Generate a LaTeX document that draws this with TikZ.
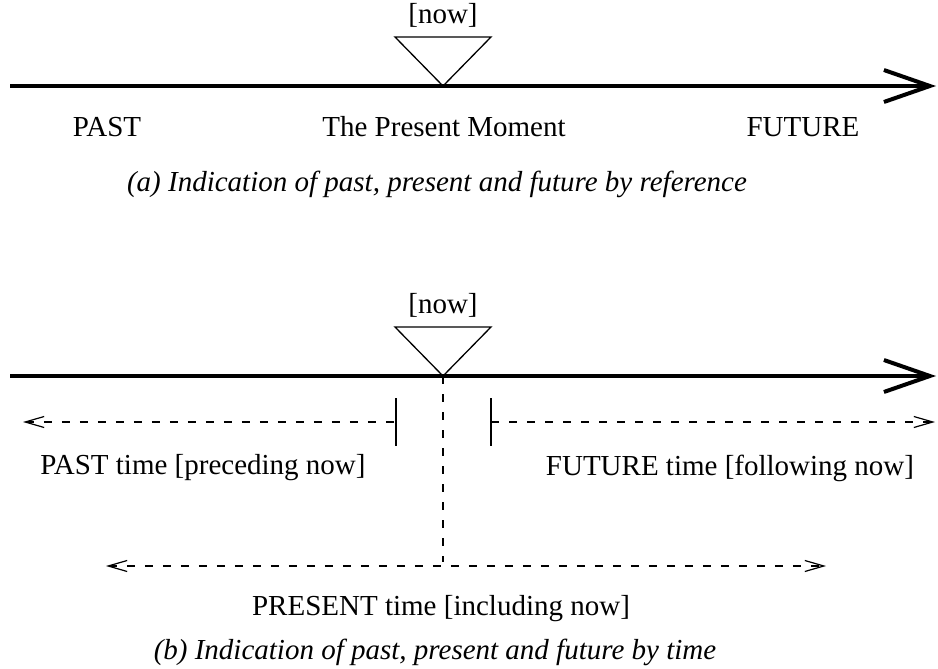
\documentclass[tikz,border=0pt]{standalone}
\usepackage{fontspec}
\setmainfont{Liberation Serif}
\usetikzlibrary{arrows.meta, positioning}
\tikzset{
    x=1pt, y=-1pt, % one unit is one pixel of the sketch
    timeline/.style={line width=4pt, -{Straight Barb[length=46pt,width=32pt,line width=4pt]}}, % the thick time axis
    marker/.style={line width=1.3pt, line join=miter}, % the [now] triangle
    span/.style={line width=1.2pt, dash pattern=on 8pt off 10pt}, % dashed extents
    spantip/.tip={Straight Barb[length=19pt,width=11pt,line width=1.2pt]}, % small open tips
    tick/.style={line width=1.3pt}, % end bars
    label/.style={font=\fontsize{29}{35}\selectfont, inner sep=0pt},
    caption/.style={font=\fontsize{29}{35}\selectfont\itshape, inner sep=0pt},
}
\begin{document}
\begin{tikzpicture}
\useasboundingbox (0,0) rectangle (938,669);
% (a) by reference
\coordinate (a0) at (10,86);
\coordinate (a1) at (936,86);
\coordinate (anow) at (443,86);
\draw[timeline] (a0) -- (a1);
\draw[marker] (anow) -- ++(-48,-49) -- ++(96,0) -- cycle;
\node[label] (anowlbl) at (443,15) {[now]};
\node[label] (past) at (107,127) {PAST};
\node[label] (present) at (444,127) {The Present Moment};
\node[label] (future) at (803,127) {FUTURE};
\node[caption] (capa) at (437,184) {(a) Indication of past, present and future by reference};
% (b) by time
\coordinate (b0) at (10,376);
\coordinate (b1) at (936,376);
\coordinate (bnow) at (443,376);
\draw[timeline] (b0) -- (b1);
\draw[marker] (bnow) -- ++(-48,-49) -- ++(96,0) -- cycle;
\node[label] (bnowlbl) at (443,305) {[now]};
\coordinate (ptip) at (23,422);
\coordinate (pend) at (396,422);
\coordinate (fbeg) at (491,422);
\coordinate (ftip) at (935,422);
\draw[span, spantip-] (ptip) -- (pend);
\draw[span, -spantip] (fbeg) -- (ftip);
\draw[tick] (pend) ++(0,-24) -- ++(0,48);
\draw[tick] (fbeg) ++(0,-24) -- ++(0,48);
\coordinate (nowfoot) at (443,562);
\draw[span] (bnow) -- (nowfoot);
\coordinate (rtip) at (106,566);
\coordinate (rend) at (826,566);
\draw[span, spantip-spantip] (rtip) -- (rend);
\node[label] (pastt) at (203,468) {PAST time [preceding now]};
\node[label] (futuret) at (730,468) {FUTURE time [following now]};
\node[label] (presentt) at (441,609) {PRESENT time [including now]};
\node[caption] (capb) at (435,652) {(b) Indication of past, present and future by time};
\end{tikzpicture}
\end{document}
